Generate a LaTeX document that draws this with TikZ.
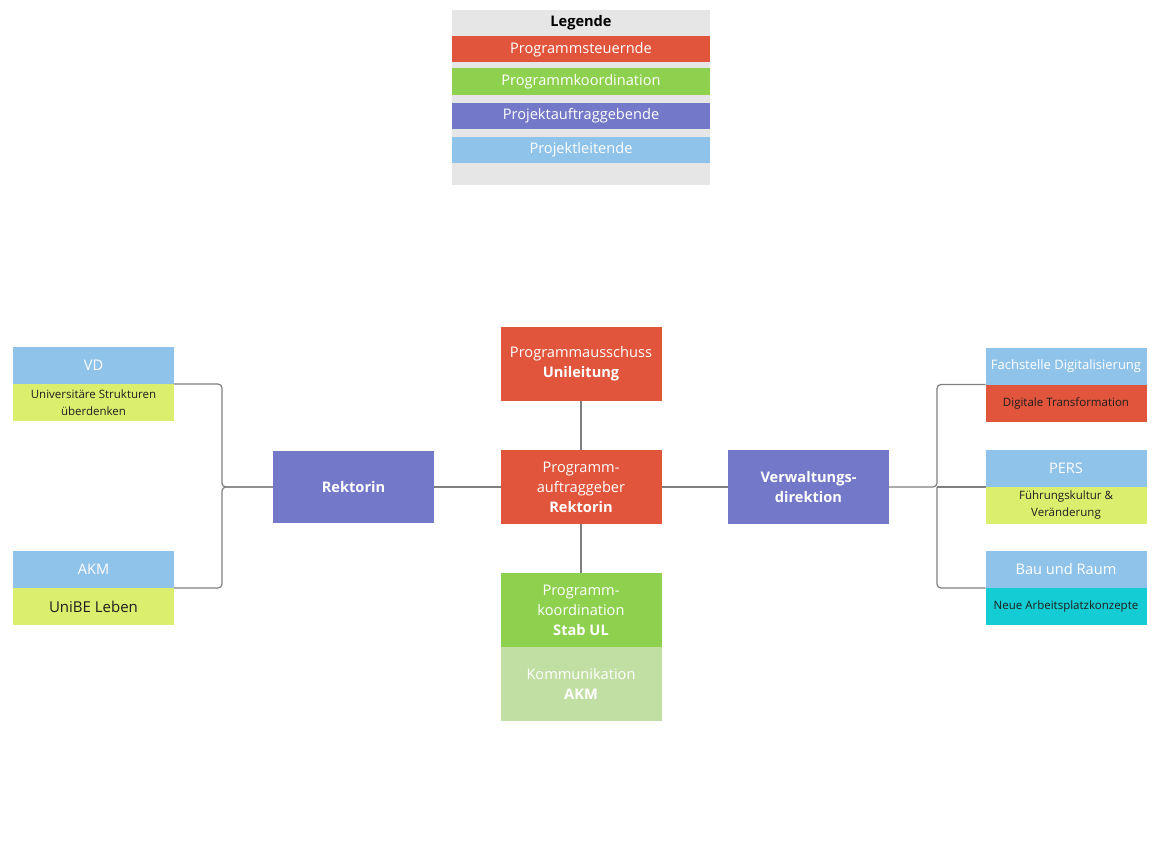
\documentclass[tikz,border=0pt]{standalone}
\usepackage{fontspec}
\setmainfont{Open Sans}
\usetikzlibrary{positioning}
\definecolor{steuer}{HTML}{E0553B}
\definecolor{koord}{HTML}{8ED14F}
\definecolor{auftraggeb}{HTML}{7379C8}
\definecolor{leiter}{HTML}{8FC3EA}
\definecolor{komm}{HTML}{C2DFA3}
\definecolor{aufgabe}{HTML}{DCEE6E}
\definecolor{arbeit}{HTML}{14CCD3}
\definecolor{legendgray}{HTML}{E6E6E6}
\definecolor{linegray}{HTML}{7F7F7F}
\definecolor{textdark}{HTML}{1E1E1E}
\begin{document}
\begin{tikzpicture}[x=1pt,y=-1pt,
  box/.style={minimum width=161pt,minimum height=74pt,inner sep=2pt,outer sep=0pt,
    align=center,text=white,font=\fontsize{14.6}{20}\selectfont},
  head/.style={box,minimum height=37pt,fill=leiter},
  task/.style={box,minimum height=37pt,text=textdark,font=\fontsize{11.5}{17}\selectfont},
  legitem/.style={minimum width=258pt,minimum height=26pt,inner sep=0pt,outer sep=0pt,
    text=white,font=\fontsize{14.6}{17}\selectfont},
  link/.style={draw=linegray,line width=1.2pt,rounded corners=4pt}]
\useasboundingbox (0,0) rectangle (1173,851);

\node[fill=legendgray,minimum width=258pt,minimum height=175pt,inner sep=0pt,anchor=north west] (legend) at (452,10) {};
\node[font=\fontsize{14.6}{17}\selectfont\bfseries] (legtitle) at (581,23) {Legende};
\foreach \y/\c/\t in {49.5/steuer/Programmsteuernde,81.5/koord/Programmkoordination,
    115.5/auftraggeb/Projektauftraggebende,149.5/leiter/Projektleitende}
  \node[legitem,fill=\c] (leg-\c) at (581,\y) {\t};

\node[box,fill=steuer] (ausschuss) at (581,364) {Programmausschuss\\\textbf{Unileitung}};
\node[box,fill=steuer] (auftrag) at (581,487) {Programm-\\auftraggeber\\\textbf{Rektorin}};
\node[box,fill=koord] (koord) at (581,610) {Programm-\\koordination\\\textbf{Stab UL}};
\node[box,fill=komm,below=0pt of koord] (komm) {Kommunikation\\\textbf{AKM}};
\node[box,fill=auftraggeb,minimum height=72pt] (rektorin) at (353.5,487) {\textbf{Rektorin}};
\node[box,fill=auftraggeb] (vwd) at (808.5,487) {\textbf{Verwaltungs-}\\\textbf{direktion}};

\node[head] (vd) at (93.5,365.5) {VD};
\node[task,fill=aufgabe,below=0pt of vd] (vdtask) {Universitäre Strukturen\\überdenken};
\node[head] (akm) at (93.5,569.5) {AKM};
\node[task,fill=aufgabe,below=0pt of akm,font=\fontsize{15}{18}\selectfont] (akmtask) {UniBE Leben};

\node[head,font=\fontsize{13}{16}\selectfont] (fach) at (1066,366) {Fachstelle Digitalisierung};
\node[task,fill=steuer,below=0pt of fach] (fachtask) {Digitale Transformation};
\node[head] (pers) at (1066,468.5) {PERS};
\node[task,fill=aufgabe,below=0pt of pers] (perstask) {Führungskultur \&\\Veränderung};
\node[head] (bau) at (1066,569.5) {Bau und Raum};
\node[task,fill=arbeit,below=0pt of bau] (bautask) {Neue Arbeitsplatzkonzepte};

\coordinate (ljoin) at (222,487);
\coordinate (rjoin) at (937,487);
\draw[link] (vd.south east) -| (ljoin) -- (rektorin.west);
\draw[link] (akm.south east) -| (ljoin) -- (rektorin.west);
\draw[link] (vwd.east) -- (rjoin) |- (fach.south west);
\draw[link] (rjoin) -- (pers.south west);
\draw[link] (rjoin) |- (bau.south west);
\draw[link] (ausschuss) -- (auftrag);
\draw[link] (auftrag) -- (koord);
\draw[link] (rektorin) -- (auftrag);
\draw[link] (auftrag) -- (vwd);
\end{tikzpicture}
\end{document}
